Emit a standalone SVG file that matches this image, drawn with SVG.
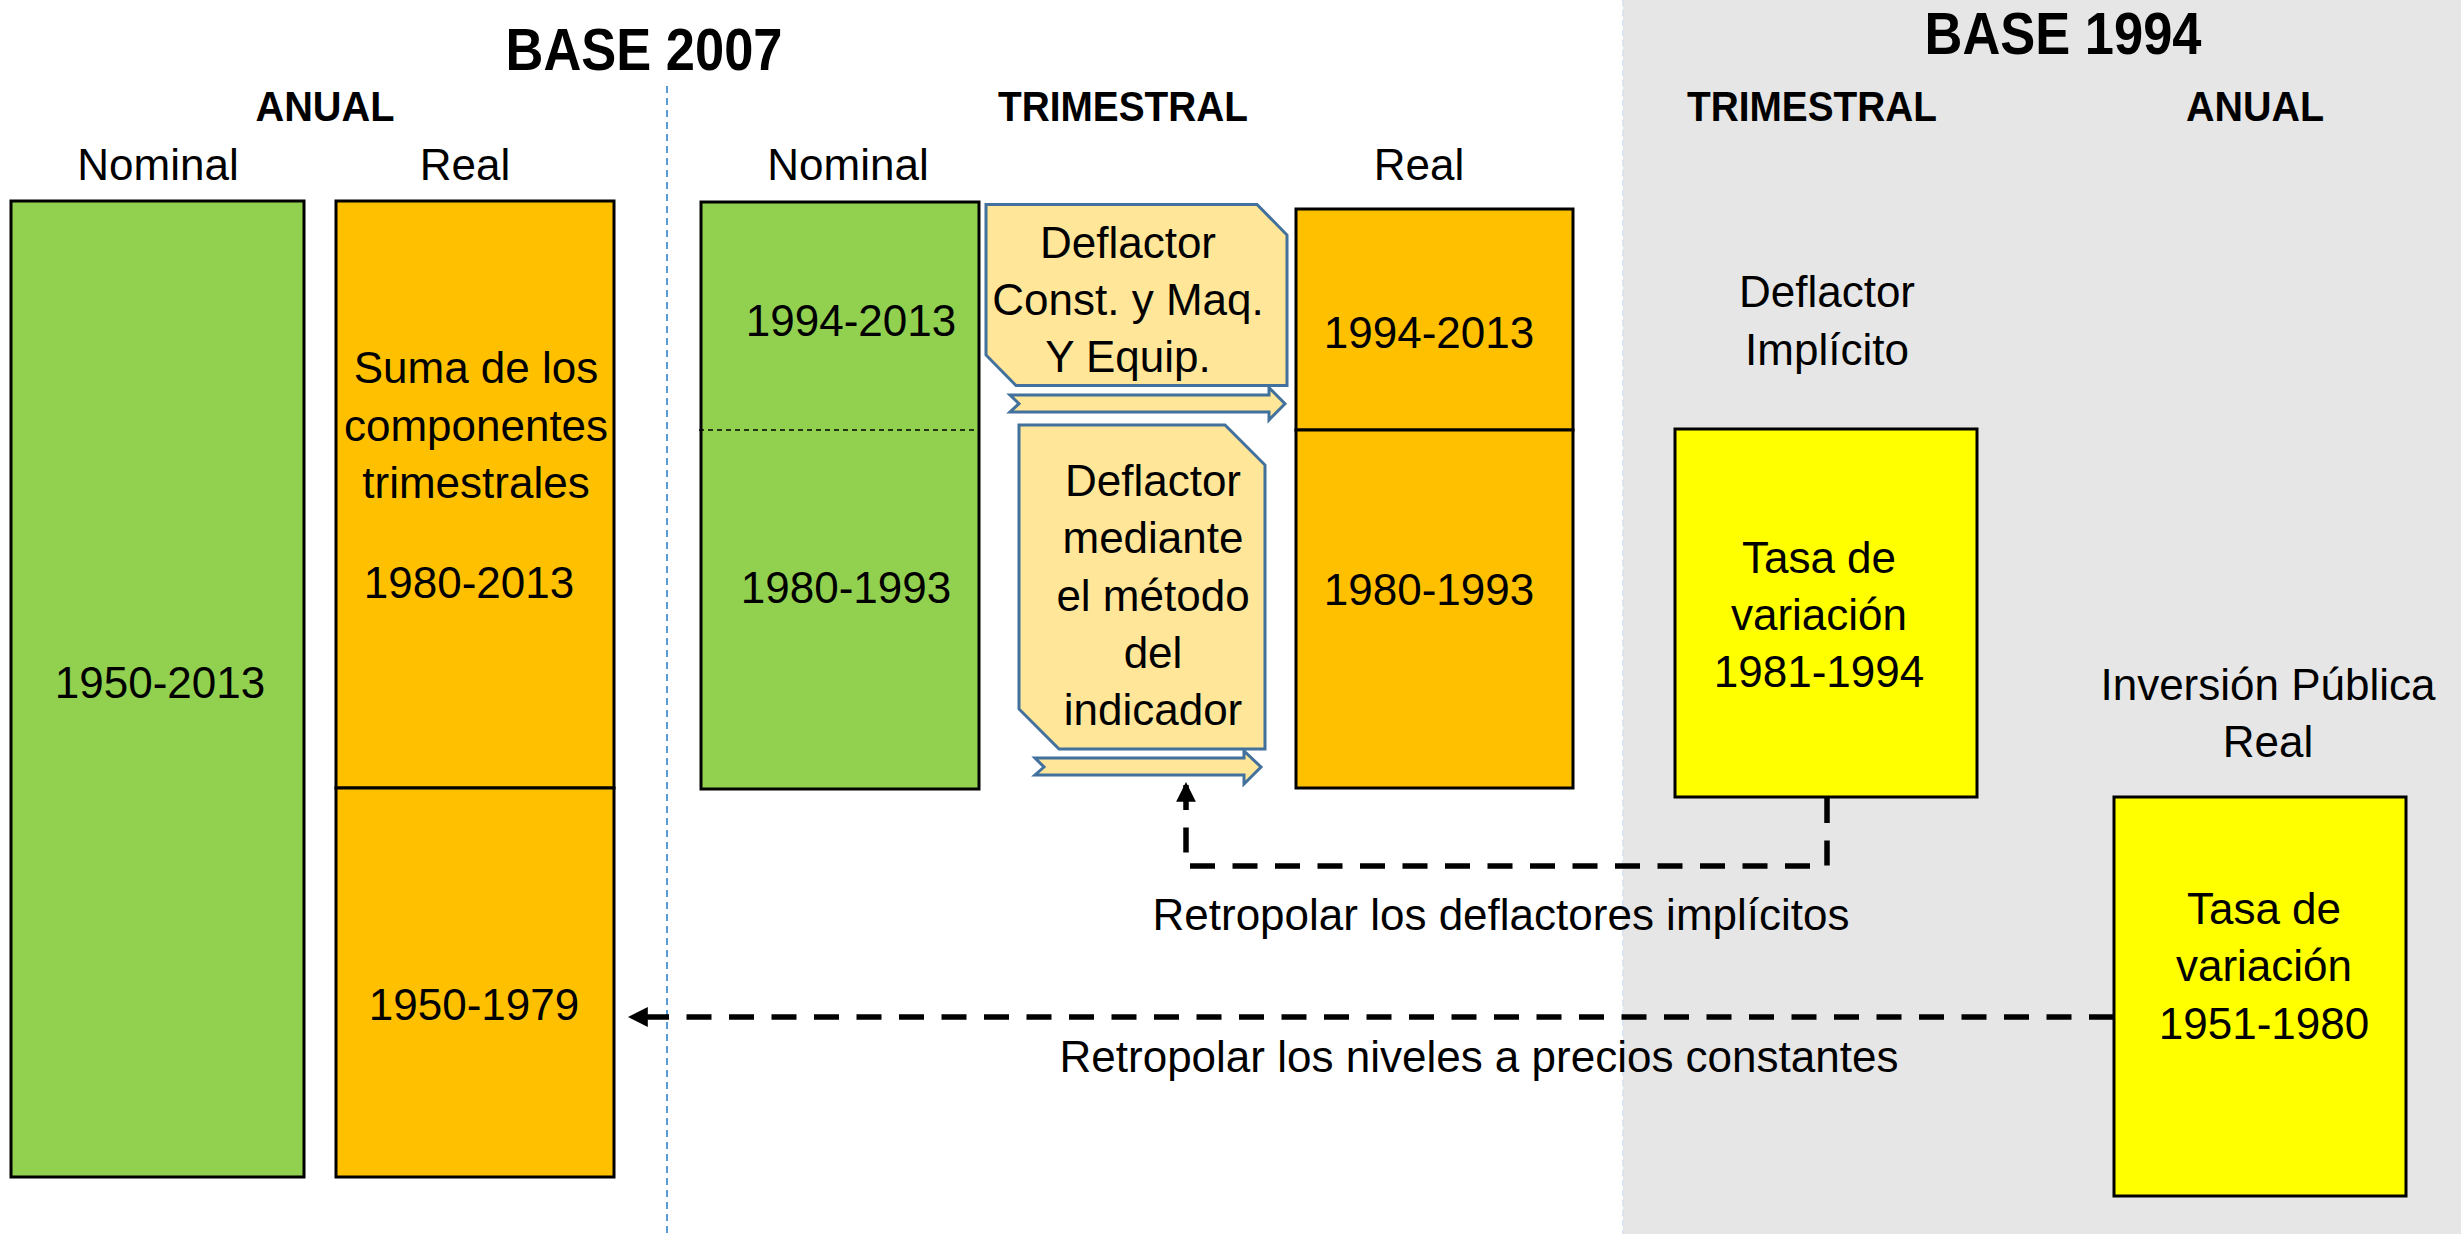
<svg xmlns="http://www.w3.org/2000/svg" width="2461" height="1234" viewBox="0 0 2461 1234">
<style>
text{font-family:"Liberation Sans",Arial,sans-serif;fill:#000;text-anchor:middle}
.t{font-size:44px}
.h{font-size:43px;font-weight:bold}
.b{font-size:59px;font-weight:bold}
.box{stroke:#000;stroke-width:3}
.g{fill:#92D050}
.o{fill:#FFC000}
.y{fill:#FFFF00}
.d{fill:#FFE699;stroke:#41719C;stroke-width:3;stroke-linejoin:miter}
.c{fill:none;stroke:#000;stroke-width:5.5;stroke-dasharray:25 17.5}
</style>
<defs>
<marker id="ah" markerWidth="4" markerHeight="4" refX="3.6" refY="2" orient="auto" markerUnits="strokeWidth">
<path d="M0,0.2 L3.6,2 L0,3.8 Z" fill="#000"/>
</marker>
</defs>
<rect x="0" y="0" width="2461" height="1234" fill="#FFFFFF"/>
<rect x="1623" y="0" width="838" height="1234" fill="#E6E6E6"/>
<line x1="1623" y1="0" x2="1623" y2="1234" stroke="#DCE4EE" stroke-width="2" stroke-dasharray="6 4"/>
<line x1="667" y1="86" x2="667" y2="1234" stroke="#5B9BD5" stroke-width="2" stroke-dasharray="7 5"/>

<g id="titles">
<text class="b" x="644" y="70" textLength="277" lengthAdjust="spacingAndGlyphs">BASE 2007</text>
<text class="b" x="2063" y="54" textLength="277" lengthAdjust="spacingAndGlyphs">BASE 1994</text>
<text class="h" x="325" y="121" textLength="139" lengthAdjust="spacingAndGlyphs">ANUAL</text>
<text class="h" x="1123" y="121" textLength="250" lengthAdjust="spacingAndGlyphs">TRIMESTRAL</text>
<text class="h" x="1812" y="121" textLength="250" lengthAdjust="spacingAndGlyphs">TRIMESTRAL</text>
<text class="h" x="2255" y="121" textLength="138" lengthAdjust="spacingAndGlyphs">ANUAL</text>
<text class="t" x="158" y="180">Nominal</text>
<text class="t" x="465" y="180">Real</text>
<text class="t" x="848" y="180">Nominal</text>
<text class="t" x="1419" y="180">Real</text>
</g>

<g id="anual-nominal">
<rect class="box g" x="11" y="201" width="293" height="976"/>
<text class="t" x="160" y="698">1950-2013</text>
</g>

<g id="anual-real-1980">
<rect class="box o" x="336" y="201" width="278" height="587"/>
<text class="t" x="476" y="383">Suma de los</text>
<text class="t" x="476" y="441">componentes</text>
<text class="t" x="476" y="498">trimestrales</text>
<text class="t" x="469" y="598">1980-2013</text>
</g>

<g id="anual-real-1950">
<rect class="box o" x="336" y="788" width="278" height="389"/>
<text class="t" x="474" y="1020">1950-1979</text>
</g>

<g id="trim-nominal">
<rect class="box g" x="701" y="202" width="278" height="587"/>
<line x1="699" y1="430" x2="979" y2="430" stroke="#000" stroke-width="1.5" stroke-dasharray="5 4"/>
<text class="t" x="851" y="336">1994-2013</text>
<text class="t" x="846" y="603">1980-1993</text>
</g>

<g id="deflactor-const">
<polygon class="d" points="986,204.5 1257,204.5 1287,235 1287,385.5 1016,385.5 986,355"/>
<text class="t" x="1128" y="258">Deflactor</text>
<text class="t" x="1128" y="315">Const. y Maq.</text>
<text class="t" x="1128" y="372">Y Equip.</text>
</g>

<g id="deflactor-indicador">
<polygon class="d" points="1019,425 1225,425 1265,465 1265,749 1059,749 1019,709"/>
<text class="t" x="1153" y="496">Deflactor</text>
<text class="t" x="1153" y="553">mediante</text>
<text class="t" x="1153" y="611">el método</text>
<text class="t" x="1153" y="668">del</text>
<text class="t" x="1153" y="725">indicador</text>
</g>

<g id="trim-real-1994">
<rect class="box o" x="1296" y="209" width="277" height="221"/>
<text class="t" x="1429" y="348">1994-2013</text>
</g>

<g id="trim-real-1980">
<rect class="box o" x="1296" y="430" width="277" height="358"/>
<text class="t" x="1429" y="605">1980-1993</text>
</g>

<g id="deflactor-implicito">
<text class="t" x="1827" y="307">Deflactor</text>
<text class="t" x="1827" y="365">Implícito</text>
</g>

<g id="tasa-1981">
<rect class="box y" x="1675" y="429" width="302" height="368"/>
<text class="t" x="1819" y="573">Tasa de</text>
<text class="t" x="1819" y="630">variación</text>
<text class="t" x="1819" y="687">1981-1994</text>
</g>

<g id="inversion-publica">
<text class="t" x="2268" y="700">Inversión Pública</text>
<text class="t" x="2268" y="757">Real</text>
</g>

<g id="tasa-1951">
<rect class="box y" x="2114" y="797" width="292" height="399"/>
<text class="t" x="2264" y="924">Tasa de</text>
<text class="t" x="2264" y="981">variación</text>
<text class="t" x="2264" y="1039">1951-1980</text>
</g>

<g id="connectors">
<polygon class="d" points="1010,395 1269,395 1269,387.5 1285,403.7 1269,420 1269,412 1010,412 1019,403.7"/>
<polygon class="d" points="1035,758 1244,758 1244,751 1261,767 1244,784 1244,775 1035,775 1044,767"/>
<path class="c" d="M1827,798 V866 H1186 V782" marker-end="url(#ah)"/>
<path class="c" d="M2114,1017 H628" marker-end="url(#ah)"/>
<text class="t" x="1501" y="930">Retropolar los deflactores implícitos</text>
<text class="t" x="1479" y="1072">Retropolar los niveles a precios constantes</text>
</g>
</svg>
